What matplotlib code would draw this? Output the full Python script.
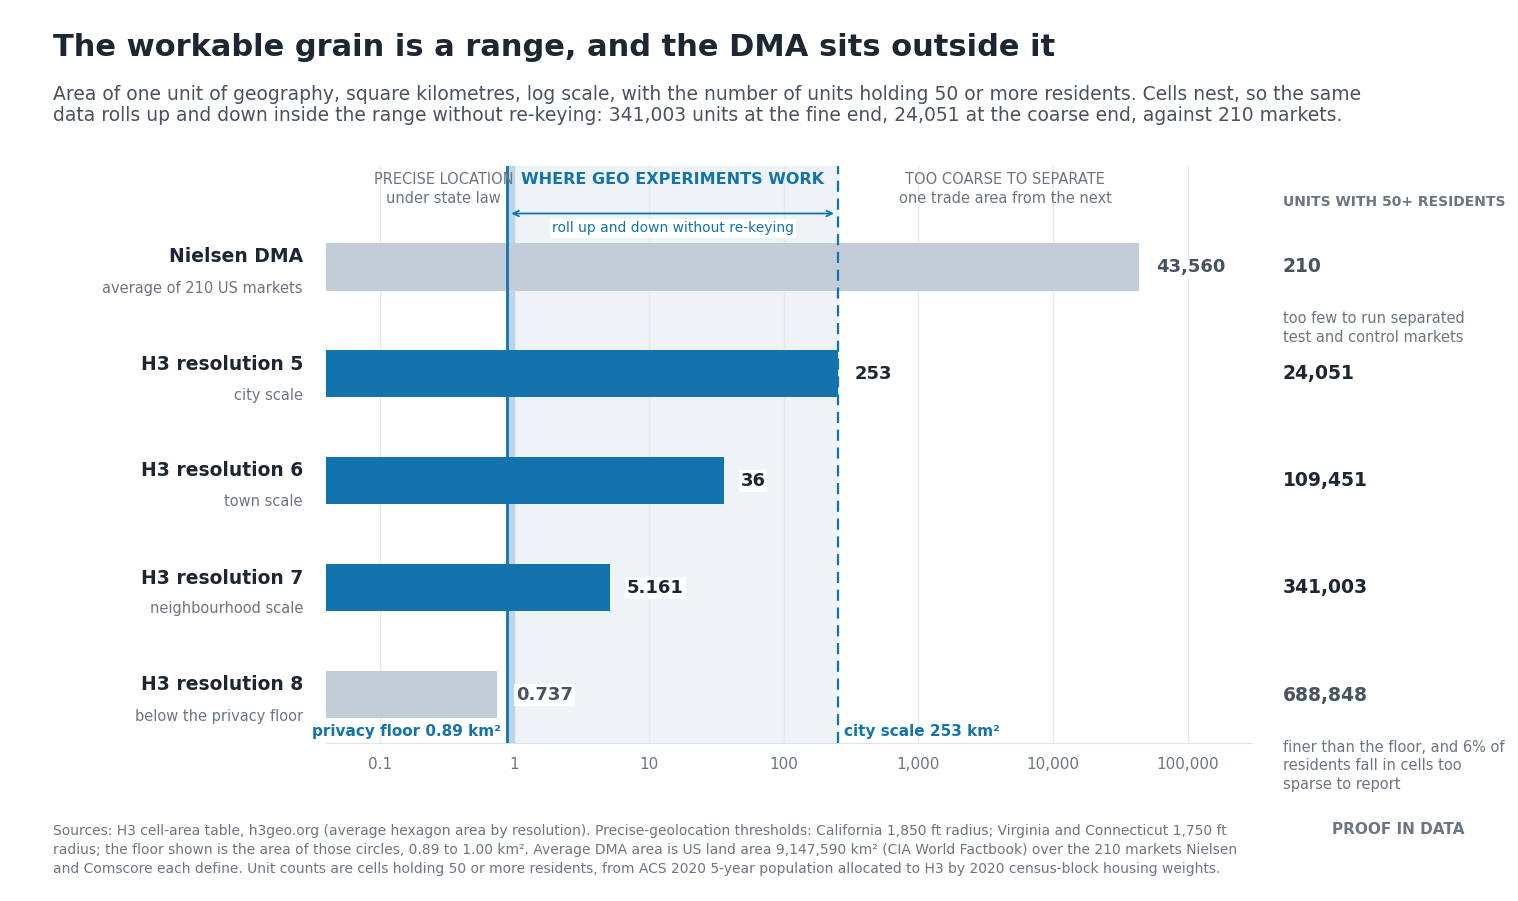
import matplotlib
matplotlib.use("Agg")
import matplotlib.pyplot as plt
from matplotlib.ticker import FixedLocator, FixedFormatter

plt.rcParams['font.family'] = ['DejaVu Sans']

names = ["Nielsen DMA", "H3 resolution 5", "H3 resolution 6", "H3 resolution 7", "H3 resolution 8"]
subs = ["average of 210 US markets", "city scale", "town scale", "neighbourhood scale", "below the privacy floor"]
areas = [43560, 253, 36, 5.161, 0.737]
area_labels = ["43,560", "253", "36", "5.161", "0.737"]
units = ["210", "24,051", "109,451", "341,003", "688,848"]
in_range = [False, True, True, True, False]
ticks = [0.1, 1, 10, 100, 1000, 10000, 100000]
tick_labels = ["0.1", "1", "10", "100", "1,000", "10,000", "100,000"]
floor_lo, floor_hi, city = 0.89, 1.00, 253

BLUE = "#1374ad"; GREY = "#c3cdd7"; DARK = "#1d2633"; MID = "#6b7682"; SLATE = "#48535f"

W, H = 1518, 901
fig = plt.figure(figsize=(W/100, H/100), dpi=100)
ax = fig.add_axes([326/W, 1-743/H, (1252-326)/W, (743-166)/H])
ax.set_xscale('log')
ax.set_xlim(0.04, 3e5)
ax.set_ylim(4.45, -0.944)

ax.axvspan(floor_lo, city, color="#eef3f8", zorder=0)
ax.axvspan(floor_lo, floor_hi, color="#bcd5e8", zorder=0.5)
for t in ticks:
    ax.axvline(t, color="#e6e8eb", lw=1, zorder=0.2)
ax.axvline(floor_lo, color=BLUE, lw=2, zorder=3)
ax.axvline(city, color=BLUE, lw=1.6, ls=(0, (5, 3)), zorder=3)

for i, (a, lab, ok) in enumerate(zip(areas, area_labels, in_range)):
    ax.barh(i, a, left=0.001, height=0.44, color=BLUE if ok else GREY, zorder=2)
    col = DARK if ok else SLATE
    ax.annotate(lab, (a, i), xytext=(12 if i != 4 else 14, 0), textcoords="offset points",
                va="center", ha="left", fontsize=13, fontweight="bold", color=col, zorder=5,
                bbox=dict(boxstyle="square,pad=0.1", fc="white", ec="none"))
    yf = 1 - (267 + 107*i)/H
    fig.text(303/W, yf + 10/H, names[i], ha="right", va="center", fontsize=13.5, fontweight="bold", color=DARK)
    fig.text(303/W, yf - 21/H, subs[i], ha="right", va="center", fontsize=10.5, color=MID)
    fig.text(1283/W, yf, units[i], ha="left", va="center", fontsize=13.5, fontweight="bold",
             color=DARK if ok else SLATE)

ax.xaxis.set_major_locator(FixedLocator(ticks))
ax.xaxis.set_major_formatter(FixedFormatter(tick_labels))
ax.xaxis.set_minor_locator(FixedLocator([]))
ax.tick_params(axis='x', length=0, labelsize=11, labelcolor=MID, pad=10)
ax.set_yticks([])
for s in ["top", "left", "right"]:
    ax.spines[s].set_visible(False)
ax.spines["bottom"].set_color("#e0e3e6")

# zone headers
ax.text(0.3, -0.82, "PRECISE LOCATION", ha="center", va="center", fontsize=10.5, color=MID)
ax.text(0.3, -0.64, "under state law", ha="center", va="center", fontsize=10.5, color=MID)
ax.text(15, -0.82, "WHERE GEO EXPERIMENTS WORK", ha="center", va="center", fontsize=11.5, fontweight="bold", color=BLUE)
ax.annotate("", xy=(floor_lo*1.02, -0.50), xytext=(city*0.98, -0.50),
            arrowprops=dict(arrowstyle="<->", color=BLUE, lw=1.3))
ax.text(15, -0.36, "roll up and down without re-keying", ha="center", va="center", fontsize=10, color=BLUE,
        bbox=dict(boxstyle="square,pad=0.15", fc="white", ec="none"))
ax.text(4400, -0.82, "TOO COARSE TO SEPARATE", ha="center", va="center", fontsize=10.5, color=MID)
ax.text(4400, -0.64, "one trade area from the next", ha="center", va="center", fontsize=10.5, color=MID)
ax.text(0.80, 4.34, "privacy floor 0.89 km²", ha="right", va="center", fontsize=11, fontweight="bold", color=BLUE)
ax.text(280, 4.34, "city scale 253 km²", ha="left", va="center", fontsize=11, fontweight="bold", color=BLUE)

fig.text(53/W, 1-48/H, "The workable grain is a range, and the DMA sits outside it", fontsize=22,
         fontweight="bold", color=DARK, va="center")
fig.text(53/W, 1-105/H, "Area of one unit of geography, square kilometres, log scale, with the number of units holding 50 or more residents. Cells nest, so the same\ndata rolls up and down inside the range without re-keying: 341,003 units at the fine end, 24,051 at the coarse end, against 210 markets.",
         fontsize=13.5, color=SLATE, va="center", linespacing=1.15)
fig.text(1283/W, 1-202/H, "UNITS WITH 50+ RESIDENTS", fontsize=10, fontweight="bold", color=MID, va="center")
fig.text(1283/W, 1-328/H, "too few to run separated\ntest and control markets", fontsize=10.5, color=MID, va="center", linespacing=1.3)
fig.text(1283/W, 1-766/H, "finer than the floor, and 6% of\nresidents fall in cells too\nsparse to report", fontsize=10.5, color=MID, va="center", linespacing=1.25)
fig.text(53/W, 1-850/H, "Sources: H3 cell-area table, h3geo.org (average hexagon area by resolution). Precise-geolocation thresholds: California 1,850 ft radius; Virginia and Connecticut 1,750 ft\nradius; the floor shown is the area of those circles, 0.89 to 1.00 km². Average DMA area is US land area 9,147,590 km² (CIA World Factbook) over the 210 markets Nielsen\nand Comscore each define. Unit counts are cells holding 50 or more residents, from ACS 2020 5-year population allocated to H3 by 2020 census-block housing weights.",
         fontsize=10, color=MID, va="center", linespacing=1.45)
fig.text(1464/W, 1-830/H, "PROOF IN DATA", fontsize=11, fontweight="bold", color=MID, ha="right", va="center")

fig.savefig("out.png", dpi=100)
